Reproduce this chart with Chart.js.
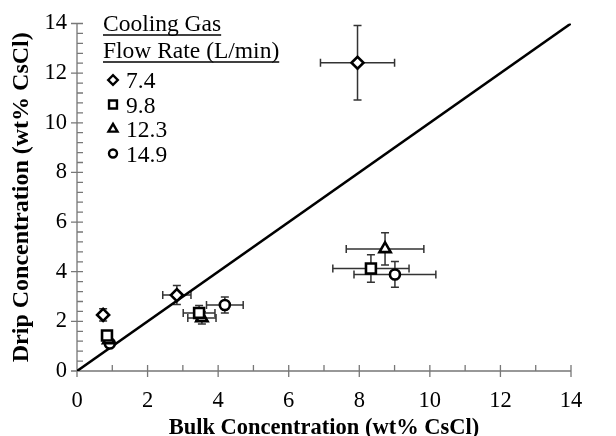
<!DOCTYPE html>
<html>
<head>
<meta charset="utf-8">
<script src="https://cdn.jsdelivr.net/npm/chart.js@4.4.0/dist/chart.umd.min.js"></script>
<style>
  html, body { margin: 0; padding: 0; background: #fff; }
  #wrap { width: 616px; height: 436px; }
</style>
</head>
<body>
<div id="wrap"><canvas id="chart"></canvas></div>
<script>
// flow rates (L/min) and their marker shapes
const flowRates = ['7.4', '9.8', '12.3', '14.9'];
const markers = ['rectRot', 'rect', 'triangle', 'circle'];
const markerSizes = [6, 7, 6.5, 5];

// bulk (x) vs drip (y) concentration, wt% CsCl, with error bars
const bulk74 = [0.74, 2.83, 7.95];
const drip74 = [2.26, 3.06, 12.42];
const bulkErr74 = [0.08, 0.40, 1.05];
const dripErr74 = [0.25, 0.38, 1.50];

const bulk98 = [0.85, 3.46, 8.33];
const drip98 = [1.43, 2.34, 4.13];
const bulkErr98 = [0.08, 0.45, 1.08];
const dripErr98 = [0.15, 0.30, 0.55];

const bulk123 = [0.90, 3.54, 8.73];
const drip123 = [1.25, 2.14, 4.92];
const bulkErr123 = [0.08, 0.40, 1.10];
const dripErr123 = [0.10, 0.25, 0.65];

const bulk149 = [0.93, 4.19, 9.01];
const drip149 = [1.11, 2.66, 3.89];
const bulkErr149 = [0.08, 0.52, 1.16];
const dripErr149 = [0.10, 0.32, 0.52];

// 1:1 reference line
const parityLine = [0, 14];

const axisMax = 14;
const majorStep = 2;
const xMinorStep = 1;
const yMinorStep = 0.4;

const serif = '"Liberation Serif", "Times New Roman", serif';

const bulkSets = [bulk74, bulk98, bulk123, bulk149];
const dripSets = [drip74, drip98, drip123, drip149];
const bulkErrSets = [bulkErr74, bulkErr98, bulkErr123, bulkErr149];
const dripErrSets = [dripErr74, dripErr98, dripErr123, dripErr149];

const datasets = flowRates.map(function (rate, i) {
    return {
        label: rate,
        data: bulkSets[i].map(function (x, j) { return { x: x, y: dripSets[i][j] }; }),
        xErr: bulkErrSets[i],
        yErr: dripErrSets[i],
        pointStyle: markers[i],
        pointRadius: markerSizes[i],
        pointBackgroundColor: '#fff',
        pointBorderColor: '#000',
        pointBorderWidth: 2.6,
        showLine: false
    };
});

datasets.push({
    label: 'parity',
    data: parityLine.map(function (v) { return { x: v, y: v }; }),
    showLine: true,
    borderColor: '#000',
    borderWidth: 2.6,
    pointRadius: 0
});

// axis lines, major/minor ticks and error bars
const axesAndErrors = {
    id: 'axesAndErrors',
    beforeDatasetsDraw: function (chart) {
        const ctx = chart.ctx;
        const xs = chart.scales.x, ys = chart.scales.y;
        const x0 = xs.getPixelForValue(0), y0 = ys.getPixelForValue(0);
        ctx.save();
        ctx.strokeStyle = '#777';
        ctx.lineWidth = 1.3;
        ctx.beginPath();
        ctx.moveTo(x0, y0);
        ctx.lineTo(xs.getPixelForValue(axisMax), y0);
        ctx.moveTo(x0, y0);
        ctx.lineTo(x0, ys.getPixelForValue(axisMax));
        for (let v = 0; v <= axisMax + 1e-6; v += xMinorStep) {
            const px = xs.getPixelForValue(v);
            const major = Math.abs(v / majorStep - Math.round(v / majorStep)) < 1e-6;
            ctx.moveTo(px, y0 - 6);
            ctx.lineTo(px, major ? y0 + 6 : y0);
        }
        for (let v = 0; v <= axisMax + 1e-6; v += yMinorStep) {
            const py = ys.getPixelForValue(v);
            ctx.moveTo(x0, py);
            ctx.lineTo(x0 + 6, py);
        }
        for (let v = 0; v <= axisMax + 1e-6; v += majorStep) {
            const py = ys.getPixelForValue(v);
            ctx.moveTo(x0 - 6, py);
            ctx.lineTo(x0 + 6, py);
        }
        ctx.stroke();

        ctx.strokeStyle = '#333';
        ctx.lineWidth = 1.5;
        const cap = 4;
        chart.data.datasets.forEach(function (ds) {
            if (!ds.xErr) return;
            ds.data.forEach(function (p, j) {
                const cx = xs.getPixelForValue(p.x), cy = ys.getPixelForValue(p.y);
                const xl = xs.getPixelForValue(p.x - ds.xErr[j]);
                const xr = xs.getPixelForValue(p.x + ds.xErr[j]);
                const yt = ys.getPixelForValue(p.y + ds.yErr[j]);
                const yb = ys.getPixelForValue(p.y - ds.yErr[j]);
                ctx.beginPath();
                ctx.moveTo(xl, cy); ctx.lineTo(xr, cy);
                ctx.moveTo(xl, cy - cap); ctx.lineTo(xl, cy + cap);
                ctx.moveTo(xr, cy - cap); ctx.lineTo(xr, cy + cap);
                ctx.moveTo(cx, yt); ctx.lineTo(cx, yb);
                ctx.moveTo(cx - cap, yt); ctx.lineTo(cx + cap, yt);
                ctx.moveTo(cx - cap, yb); ctx.lineTo(cx + cap, yb);
                ctx.stroke();
            });
        });
        ctx.restore();
    }
};

// legend box in upper left, with underlined heading
const legendBox = {
    id: 'legendBox',
    afterDraw: function (chart) {
        const ctx = chart.ctx;
        const left = 103;
        ctx.save();
        ctx.fillStyle = '#000';
        ctx.strokeStyle = '#000';
        ctx.font = '23.5px ' + serif;
        ctx.textBaseline = 'alphabetic';
        ctx.textAlign = 'left';
        const heading = ['Cooling Gas', 'Flow Rate (L/min)'];
        const headY = [31, 58];
        heading.forEach(function (t, i) {
            ctx.fillText(t, left, headY[i]);
            const w = ctx.measureText(t).width;
            ctx.lineWidth = 1.3;
            ctx.beginPath();
            ctx.moveTo(left, headY[i] + 4);
            ctx.lineTo(left + w, headY[i] + 4);
            ctx.stroke();
        });
        flowRates.forEach(function (rate, i) {
            const cy = 80 + i * 24.5;
            ctx.fillStyle = '#fff';
            ctx.lineWidth = 2.4;
            Chart.helpers.drawPoint(ctx, {
                pointStyle: markers[i],
                radius: markerSizes[i] * 0.8,
                rotation: 0,
                borderWidth: 2.4
            }, 113, cy);
            ctx.fillStyle = '#000';
            ctx.fillText(rate, 126, cy + 8);
        });
        ctx.restore();
    }
};

new Chart(document.getElementById('chart').getContext('2d'), {
    type: 'scatter',
    data: { datasets: datasets },
    options: {
        responsive: true,
        maintainAspectRatio: false,
        animation: false,
        layout: { padding: { top: 18, right: 45, left: 0, bottom: 0 } },
        plugins: {
            legend: { display: false },
            tooltip: { enabled: false }
        },
        scales: {
            x: {
                type: 'linear',
                min: 0,
                max: axisMax,
                grid: { display: false, drawTicks: false },
                border: { display: false },
                ticks: {
                    stepSize: majorStep,
                    padding: 17,
                    color: '#000',
                    font: { family: serif, size: 22.5 }
                },
                title: {
                    display: true,
                    text: 'Bulk Concentration (wt% CsCl)',
                    color: '#000',
                    font: { family: serif, size: 22.5, weight: 'bold', lineHeight: 1 },
                    padding: { top: 0, bottom: -3 }
                },
                afterFit: function (scale) { scale.height = 65; }
            },
            y: {
                type: 'linear',
                min: 0,
                max: axisMax,
                grid: { display: false, drawTicks: false },
                border: { display: false },
                ticks: {
                    stepSize: majorStep,
                    padding: 10,
                    color: '#000',
                    font: { family: serif, size: 22.5 }
                },
                title: {
                    display: true,
                    text: 'Drip Concentration (wt% CsCl)',
                    color: '#000',
                    font: { family: serif, size: 24, weight: 'bold', lineHeight: 1 },
                    padding: { top: 10, bottom: 0 }
                },
                afterFit: function (scale) { scale.width = 77; }
            }
        }
    },
    plugins: [axesAndErrors, legendBox]
});
</script>
</body>
</html>
